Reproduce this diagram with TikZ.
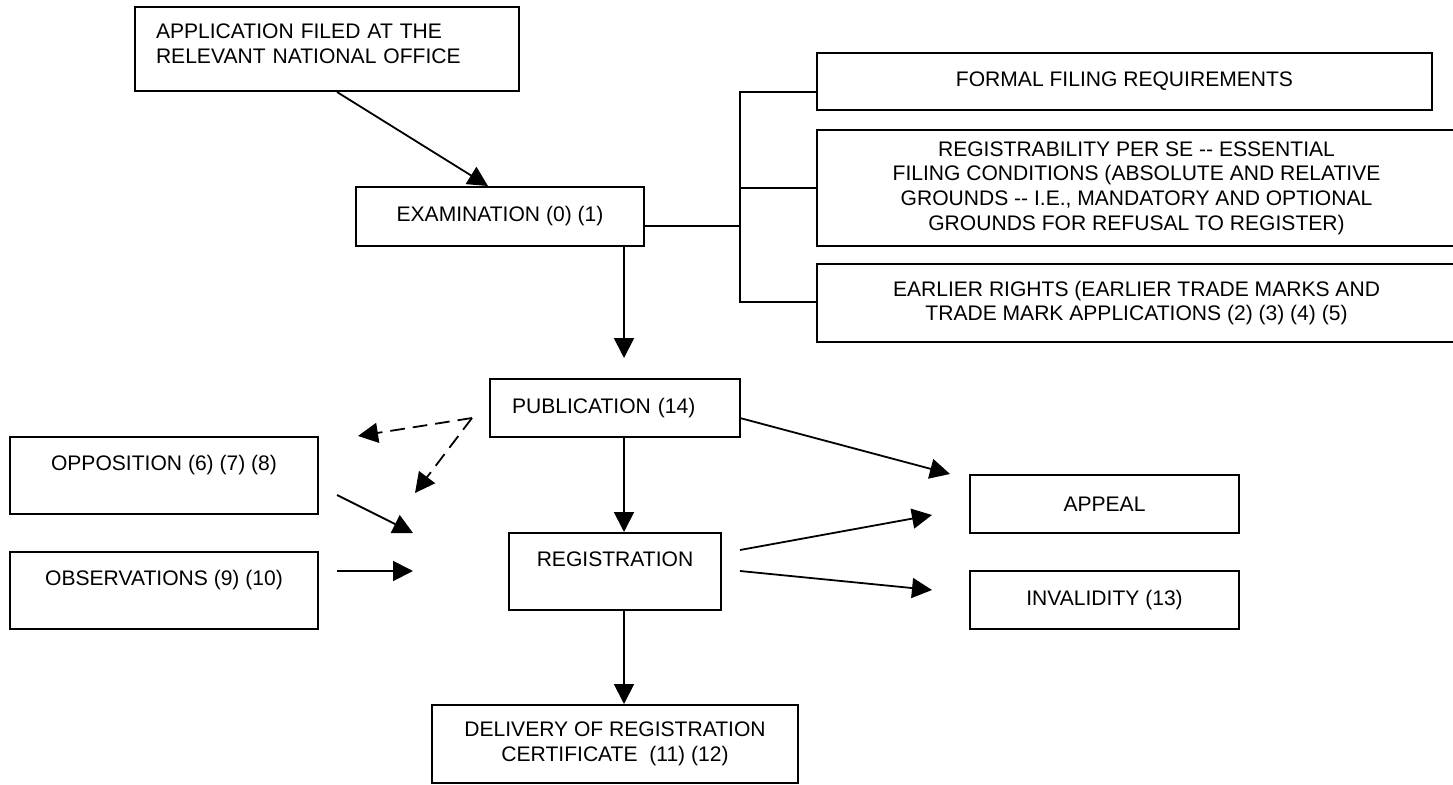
\documentclass[tikz,border=0pt]{standalone}
\usepackage{fontspec}
\setmainfont{Liberation Sans}
\usetikzlibrary{arrows.meta, calc}
\tikzset{
  box/.style={rectangle, draw, line width=1.5pt, align=center, inner sep=0pt,
              font=\fontsize{15.8}{18.5}\selectfont},
  lbox/.style={box, align=left},
  arr/.style={-{Triangle[length=15pt, width=15pt]}, line width=1.35pt},
  darr/.style={arr, dash pattern=on 11pt off 6pt},
  link/.style={line width=1.35pt},
}

\begin{document}
\begin{tikzpicture}[x=0.75pt, y=-0.75pt]
  \useasboundingbox (0,0) rectangle (1453,785);
  % Filing
  \node[lbox, minimum width=288pt, minimum height=63pt, text width=256.5pt, inner xsep=15.75pt] (app) at (327,49)
    {APPLICATION FILED AT THE\\RELEVANT NATIONAL OFFICE\\[-10pt]\mbox{}};
  % Examination
  \node[box, minimum width=216pt, minimum height=44.25pt] (exam) at (500,216.5) {EXAMINATION (0) (1)};
  \draw[arr] ($(app.south)+(10,0)$) -- ($(exam.north)+(-12,0)$);
  % What is examined
  \node[box, minimum width=461.25pt, minimum height=42.75pt] (formal) at (1124.5,81.5) {FORMAL FILING REQUIREMENTS};
  \node[box, minimum width=479.25pt, minimum height=87pt] (regis) at (1136.5,188)
    {REGISTRABILITY PER SE -{}- ESSENTIAL\\FILING CONDITIONS (ABSOLUTE AND RELATIVE\\GROUNDS -{}- I.E., MANDATORY AND OPTIONAL\\GROUNDS FOR REFUSAL TO REGISTER)};
  \node[box, minimum width=479.25pt, minimum height=58.5pt] (earlier) at (1136.5,303)
    {EARLIER RIGHTS (EARLIER TRADE MARKS AND\\TRADE MARK APPLICATIONS (2) (3) (4) (5)};
  % Bracket
  \coordinate (brtop) at (740,92);
  \coordinate (brbot) at (740,302);
  \coordinate (examout) at ($(exam.east)+(0,9.5)$);
  \draw[link] (brtop -| formal.west) -- (brtop) -- (brbot) -- (brbot -| earlier.west);
  \draw[link] (regis.west) -- (regis.west -| brtop);
  \draw[link] (examout) -- (examout -| brtop);
  % Publication
  \node[lbox, minimum width=187.5pt, minimum height=43.5pt, text width=154.5pt, inner xsep=16.5pt] (pub) at (615,408) {PUBLICATION (14)};
  \coordinate (pubin) at (624,358);
  \draw[arr] (exam.south -| pubin) -- (pubin);
  % Registration
  \node[box, minimum width=159pt, minimum height=57.75pt] (reg) at (615,571.5) {REGISTRATION\\\mbox{}};
  \draw[arr] (pub.south -| pubin) -- (reg.north -| pubin);
  % Certificate
  \node[box, minimum width=274.5pt, minimum height=58.5pt] (deliv) at (615,744)
    {DELIVERY OF REGISTRATION\\CERTIFICATE\ \ (11) (12)};
  \draw[arr] (reg.south -| pubin) -- (deliv.north -| pubin);
  % Third parties
  \node[box, minimum width=231pt, minimum height=57.75pt] (opp) at (164,475.5) {OPPOSITION (6) (7) (8)\\\mbox{}};
  \node[box, minimum width=231pt, minimum height=57.75pt] (obs) at (164,590.5) {OBSERVATIONS (9) (10)\\\mbox{}};
  \coordinate (dsrc) at (472,418);
  \coordinate (dopp) at (358,436);
  \coordinate (dreg) at (415,493);
  \draw[darr] (dsrc) -- (dopp);
  \draw[darr] (dsrc) -- (dreg);
  \coordinate (oppout) at (337,495);
  \coordinate (oppin) at (413,533);
  \coordinate (obsout) at (337,571);
  \coordinate (obsin) at (413,571);
  \draw[arr] (oppout) -- (oppin);
  \draw[arr] (obsout) -- (obsin);
  % Remedies
  \node[box, minimum width=201.75pt, minimum height=43.5pt] (appeal) at (1104.5,504) {APPEAL};
  \node[box, minimum width=201.75pt, minimum height=43.5pt] (inval) at (1104.5,600) {INVALIDITY (13)};
  \coordinate (pubout) at (740,418);
  \coordinate (appin1) at (950,474);
  \coordinate (regout1) at (740,550);
  \coordinate (appin2) at (932,515);
  \coordinate (regout2) at (740,571);
  \coordinate (invin) at (932,590);
  \draw[arr] (pubout) -- (appin1);
  \draw[arr] (regout1) -- (appin2);
  \draw[arr] (regout2) -- (invin);
\end{tikzpicture}
\end{document}
